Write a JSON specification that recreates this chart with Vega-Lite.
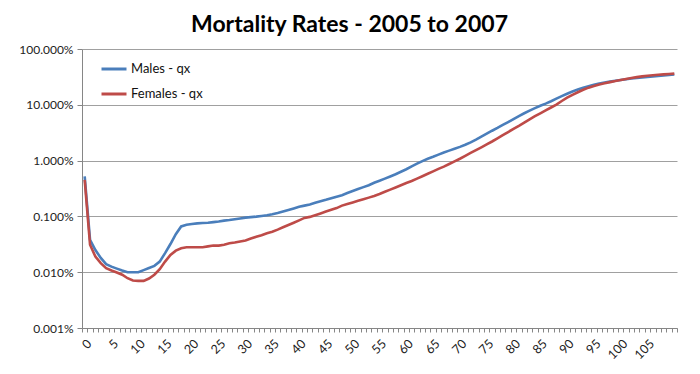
{
  "$schema": "https://vega.github.io/schema/vega-lite/v6.json",
  "width": 595,
  "height": 279,
  "autosize": {"type": "none"},
  "padding": {"left": 82, "top": 49, "right": 23, "bottom": 46},
  "background": "white",
  "config": {
    "font": "Lato",
    "view": {"stroke": null},
    "axis": {"labelFont": "Lato", "labelColor": "#222", "labelFontSize": 12, "domainColor": "#868686", "tickColor": "#868686", "title": null}
  },
  "title": {
    "text": "Mortality Rates - 2005 to 2007",
    "font": "Lato",
    "fontSize": 23,
    "fontWeight": "bold",
    "color": "#000",
    "anchor": "middle",
    "frame": "group",
    "dx": -30,
    "offset": 6
  },
  "data": {
    "values": [
      {"age":0,"Males - qx":0.0052,"Females - qx":0.0045},
      {"age":1,"Males - qx":0.00038,"Females - qx":0.00031},
      {"age":2,"Males - qx":0.00025,"Females - qx":0.00019},
      {"age":3,"Males - qx":0.00018,"Females - qx":0.000145},
      {"age":4,"Males - qx":0.000139,"Females - qx":0.000118},
      {"age":5,"Males - qx":0.000126,"Females - qx":0.000107},
      {"age":6,"Males - qx":0.000116,"Females - qx":0.000099},
      {"age":7,"Males - qx":0.000107,"Females - qx":0.00009},
      {"age":8,"Males - qx":0.0001,"Females - qx":0.000078},
      {"age":9,"Males - qx":0.0001,"Females - qx":0.000071},
      {"age":10,"Males - qx":0.0001,"Females - qx":0.00007},
      {"age":11,"Males - qx":0.000109,"Females - qx":0.00007},
      {"age":12,"Males - qx":0.000119,"Females - qx":0.000077},
      {"age":13,"Males - qx":0.00013,"Females - qx":0.00009},
      {"age":14,"Males - qx":0.000155,"Females - qx":0.000113},
      {"age":15,"Males - qx":0.00022,"Females - qx":0.000155},
      {"age":16,"Males - qx":0.00032,"Females - qx":0.000204},
      {"age":17,"Males - qx":0.00048,"Females - qx":0.000243},
      {"age":18,"Males - qx":0.00066,"Females - qx":0.000269},
      {"age":19,"Males - qx":0.00071,"Females - qx":0.00028},
      {"age":20,"Males - qx":0.00073,"Females - qx":0.00028},
      {"age":21,"Males - qx":0.00075,"Females - qx":0.00028},
      {"age":22,"Males - qx":0.00076,"Females - qx":0.00028},
      {"age":23,"Males - qx":0.00077,"Females - qx":0.00029},
      {"age":24,"Males - qx":0.00079,"Females - qx":0.0003},
      {"age":25,"Males - qx":0.00081,"Females - qx":0.0003},
      {"age":26,"Males - qx":0.00084,"Females - qx":0.00031},
      {"age":27,"Males - qx":0.00086,"Females - qx":0.00033},
      {"age":28,"Males - qx":0.00089,"Females - qx":0.00034},
      {"age":29,"Males - qx":0.00092,"Females - qx":0.000355},
      {"age":30,"Males - qx":0.00095,"Females - qx":0.00037},
      {"age":31,"Males - qx":0.00097,"Females - qx":0.0004},
      {"age":32,"Males - qx":0.00099,"Females - qx":0.00043},
      {"age":33,"Males - qx":0.00102,"Females - qx":0.00046},
      {"age":34,"Males - qx":0.00105,"Females - qx":0.0005},
      {"age":35,"Males - qx":0.00109,"Females - qx":0.00053},
      {"age":36,"Males - qx":0.00115,"Females - qx":0.00058},
      {"age":37,"Males - qx":0.00122,"Females - qx":0.00064},
      {"age":38,"Males - qx":0.0013,"Females - qx":0.0007},
      {"age":39,"Males - qx":0.00139,"Females - qx":0.00077},
      {"age":40,"Males - qx":0.00149,"Females - qx":0.00085},
      {"age":41,"Males - qx":0.00156,"Females - qx":0.00094},
      {"age":42,"Males - qx":0.00163,"Females - qx":0.00098},
      {"age":43,"Males - qx":0.00175,"Females - qx":0.00105},
      {"age":44,"Males - qx":0.00186,"Females - qx":0.00113},
      {"age":45,"Males - qx":0.00198,"Females - qx":0.00122},
      {"age":46,"Males - qx":0.00212,"Females - qx":0.00131},
      {"age":47,"Males - qx":0.00226,"Females - qx":0.00141},
      {"age":48,"Males - qx":0.0024,"Females - qx":0.00156},
      {"age":49,"Males - qx":0.00262,"Females - qx":0.00167},
      {"age":50,"Males - qx":0.00285,"Females - qx":0.00178},
      {"age":51,"Males - qx":0.0031,"Females - qx":0.0019},
      {"age":52,"Males - qx":0.00335,"Females - qx":0.00203},
      {"age":53,"Males - qx":0.00362,"Females - qx":0.00217},
      {"age":54,"Males - qx":0.004,"Females - qx":0.00233},
      {"age":55,"Males - qx":0.00435,"Females - qx":0.00252},
      {"age":56,"Males - qx":0.00475,"Females - qx":0.00276},
      {"age":57,"Males - qx":0.0052,"Females - qx":0.00302},
      {"age":58,"Males - qx":0.0057,"Females - qx":0.0033},
      {"age":59,"Males - qx":0.0063,"Females - qx":0.00362},
      {"age":60,"Males - qx":0.007,"Females - qx":0.00396},
      {"age":61,"Males - qx":0.0079,"Females - qx":0.0043},
      {"age":62,"Males - qx":0.0088,"Females - qx":0.00475},
      {"age":63,"Males - qx":0.0098,"Females - qx":0.00525},
      {"age":64,"Males - qx":0.0108,"Females - qx":0.0058},
      {"age":65,"Males - qx":0.0117,"Females - qx":0.0064},
      {"age":66,"Males - qx":0.0128,"Females - qx":0.0071},
      {"age":67,"Males - qx":0.014,"Females - qx":0.0078},
      {"age":68,"Males - qx":0.0151,"Females - qx":0.0087},
      {"age":69,"Males - qx":0.0163,"Females - qx":0.0097},
      {"age":70,"Males - qx":0.0176,"Females - qx":0.0108},
      {"age":71,"Males - qx":0.0192,"Females - qx":0.0122},
      {"age":72,"Males - qx":0.0212,"Females - qx":0.0137},
      {"age":73,"Males - qx":0.0237,"Females - qx":0.0154},
      {"age":74,"Males - qx":0.0268,"Females - qx":0.0173},
      {"age":75,"Males - qx":0.0303,"Females - qx":0.0195},
      {"age":76,"Males - qx":0.0343,"Females - qx":0.022},
      {"age":77,"Males - qx":0.0385,"Females - qx":0.025},
      {"age":78,"Males - qx":0.0435,"Females - qx":0.0285},
      {"age":79,"Males - qx":0.049,"Females - qx":0.0325},
      {"age":80,"Males - qx":0.0555,"Females - qx":0.037},
      {"age":81,"Males - qx":0.0625,"Females - qx":0.042},
      {"age":82,"Males - qx":0.0705,"Females - qx":0.048},
      {"age":83,"Males - qx":0.0785,"Females - qx":0.055},
      {"age":84,"Males - qx":0.087,"Females - qx":0.0625},
      {"age":85,"Males - qx":0.096,"Females - qx":0.0705},
      {"age":86,"Males - qx":0.105,"Females - qx":0.0795},
      {"age":87,"Males - qx":0.116,"Females - qx":0.0895},
      {"age":88,"Males - qx":0.129,"Females - qx":0.101},
      {"age":89,"Males - qx":0.143,"Females - qx":0.117},
      {"age":90,"Males - qx":0.158,"Females - qx":0.134},
      {"age":91,"Males - qx":0.173,"Females - qx":0.151},
      {"age":92,"Males - qx":0.188,"Females - qx":0.168},
      {"age":93,"Males - qx":0.202,"Females - qx":0.186},
      {"age":94,"Males - qx":0.215,"Females - qx":0.203},
      {"age":95,"Males - qx":0.228,"Females - qx":0.218},
      {"age":96,"Males - qx":0.24,"Females - qx":0.232},
      {"age":97,"Males - qx":0.25,"Females - qx":0.244},
      {"age":98,"Males - qx":0.26,"Females - qx":0.255},
      {"age":99,"Males - qx":0.269,"Females - qx":0.266},
      {"age":100,"Males - qx":0.278,"Females - qx":0.279},
      {"age":101,"Males - qx":0.287,"Females - qx":0.291},
      {"age":102,"Males - qx":0.295,"Females - qx":0.303},
      {"age":103,"Males - qx":0.302,"Females - qx":0.313},
      {"age":104,"Males - qx":0.309,"Females - qx":0.323},
      {"age":105,"Males - qx":0.315,"Females - qx":0.332},
      {"age":106,"Males - qx":0.322,"Females - qx":0.339},
      {"age":107,"Males - qx":0.328,"Females - qx":0.345},
      {"age":108,"Males - qx":0.335,"Females - qx":0.351},
      {"age":109,"Males - qx":0.341,"Females - qx":0.356},
      {"age":110,"Males - qx":0.348,"Females - qx":0.362}
    ]
  },
  "transform": [
    {"fold": ["Males - qx", "Females - qx"], "as": ["series", "qx"]}
  ],
  "mark": {"type": "line", "strokeWidth": 2.6, "interpolate": "linear"},
  "encoding": {
    "x": {
      "field": "age",
      "type": "quantitative",
      "scale": {"domain": [-0.5, 110.5], "nice": false, "zero": false},
      "axis": {
        "grid": false,
        "values": [-0.5,0.5,1.5,2.5,3.5,4.5,5.5,6.5,7.5,8.5,9.5,10.5,11.5,12.5,13.5,14.5,15.5,16.5,17.5,18.5,19.5,20.5,21.5,22.5,23.5,24.5,25.5,26.5,27.5,28.5,29.5,30.5,31.5,32.5,33.5,34.5,35.5,36.5,37.5,38.5,39.5,40.5,41.5,42.5,43.5,44.5,45.5,46.5,47.5,48.5,49.5,50.5,51.5,52.5,53.5,54.5,55.5,56.5,57.5,58.5,59.5,60.5,61.5,62.5,63.5,64.5,65.5,66.5,67.5,68.5,69.5,70.5,71.5,72.5,73.5,74.5,75.5,76.5,77.5,78.5,79.5,80.5,81.5,82.5,83.5,84.5,85.5,86.5,87.5,88.5,89.5,90.5,91.5,92.5,93.5,94.5,95.5,96.5,97.5,98.5,99.5,100.5,101.5,102.5,103.5,104.5,105.5,106.5,107.5,108.5,109.5,110.5],
        "labelExpr": "(datum.value + 0.5) % 5 == 0 && datum.value < 106 ? format(datum.value + 0.5, 'd') : ''",
        "labelOffset": 2.7,
        "labelAngle": -45,
        "labelOverlap": false,
        "labelFlush": false,
        "labelPadding": 5,
        "labelFontSize": 12.5,
        "tickSize": 4,
        "domainColor": "#868686"
      }
    },
    "y": {
      "field": "qx",
      "type": "quantitative",
      "scale": {"type": "log", "domain": [0.00001, 1], "nice": false},
      "axis": {
        "values": [0.00001, 0.0001, 0.001, 0.01, 0.1, 1],
        "format": ".3%",
        "grid": true,
        "gridColor": "#a0a0a0",
        "gridWidth": 1,
        "tickSize": 5,
        "labelPadding": 4
      }
    },
    "color": {
      "field": "series",
      "type": "nominal",
      "scale": {"domain": ["Males - qx", "Females - qx"], "range": ["#4a7ebb", "#be4b48"]},
      "legend": {
        "title": null,
        "orient": "none",
        "legendX": 18,
        "legendY": 6,
        "symbolType": "stroke",
        "symbolSize": 625,
        "symbolStrokeWidth": 3,
        "labelFont": "Lato",
        "labelFontSize": 13,
        "labelColor": "#111",
        "labelOffset": 3,
        "rowPadding": 4,
        "padding": 0
      }
    }
  }
}
